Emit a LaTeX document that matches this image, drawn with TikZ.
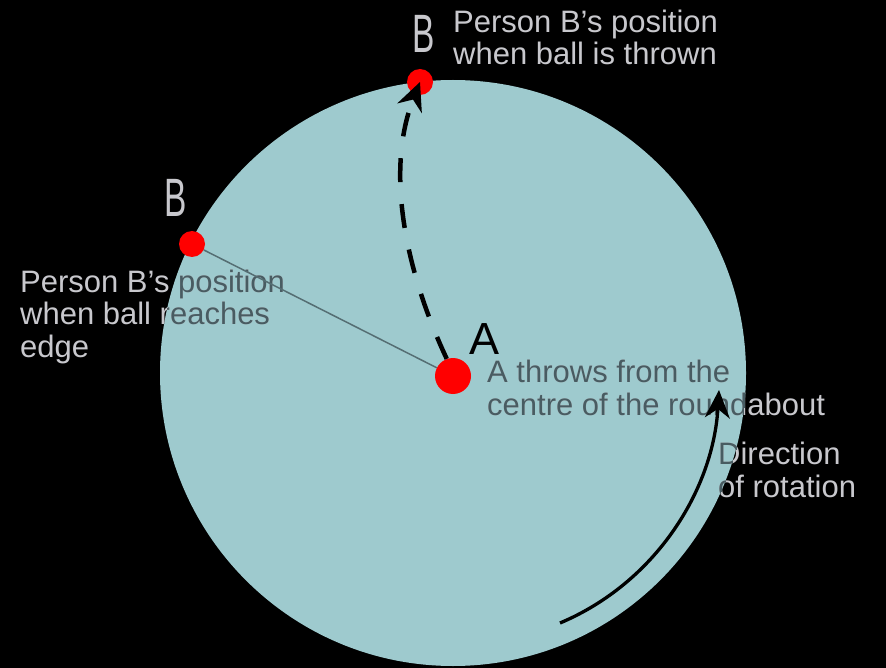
\documentclass[tikz,border=0pt]{standalone}
\usepackage{fontspec}
\setmainfont{Liberation Sans}
\usetikzlibrary{arrows.meta}

\definecolor{roundaboutblue}{RGB}{158,202,206}
\definecolor{lighttext}{RGB}{200,200,205}
\definecolor{darktext}{RGB}{72,92,98}
\definecolor{dotred}{RGB}{255,0,0}
\definecolor{radiusline}{RGB}{85,110,115}

% all grey notes, coloured #1, node names ending in #2
% (a note is placed at the baseline of its last line)
\newcommand{\placenotes}[2]{%
    \node[note, text=#1] (throwtext#2) at (453,65) {Person B's position\\when ball is thrown};
    \node[note, text=#1] (edgetext#2) at (20,357) {Person B's position\\when ball reaches\\edge};
    \node[note, text=#1] (centretext#2) at (487,415) {A throws from the\\centre of the roundabout};
    \node[note, text=#1] (rotationtext#2) at (718,497) {Direction\\of rotation};
}

\begin{document}
\begin{tikzpicture}[x=1pt, y=-1pt,
    note/.style={anchor=base west, align=left, inner sep=0pt, font=\fontsize{31}{32.5}\selectfont},
    reddot/.style={circle, fill=dotred, draw=none, inner sep=0pt, minimum size=#1},
    bigletter/.style={inner sep=0pt, font=\fontsize{54}{54}\selectfont}]

    % Black page and the roundabout
    \useasboundingbox (0,0) rectangle (886,668);
    \fill[black] (0,0) rectangle (886,668);
    \def\roundabout{(453,373) circle[radius=293pt]}
    \fill[roundaboutblue] \roundabout;

    % Notes: light on black, dark on the roundabout
    \placenotes{lighttext}{}
    \begin{scope}
        \clip \roundabout;
        \placenotes{darktext}{inside}
    \end{scope}

    % Letters for person B
    \node[bigletter, text=lighttext] (Bthrowletter) at (424,34) {\scalebox{0.62}[1]{B}};
    \node[bigletter, text=lighttext] (Bedgeletter) at (176,198) {\scalebox{0.62}[1]{B}};

    % People
    \node[reddot=36pt] (dotA) at (453,376) {};
    \node[reddot=26pt] (dotBthrow) at (420,82) {};
    \node[reddot=26pt] (dotBedge) at (192,244) {};
    \node[inner sep=0pt, font=\fontsize{45}{45}\selectfont] (letterA) at (485,339) {A};

    % Radius to B at the edge
    \draw[radiusline, line width=1.5pt] (dotBedge) -- (dotA);

    % Path of the ball
    \draw[line width=4.5pt, dash pattern=on 24pt off 22pt, -{Stealth[length=28pt, width=26pt]}]
        (dotA.110) .. controls (405,270) and (385,170) .. (dotBthrow.center);

    % Direction of rotation
    \coordinate (rotstart) at (560,623);
    \coordinate (rotend) at (719,390);
    \draw[line width=3.3pt, -{Stealth[length=28pt, width=25pt]}]
        (rotstart) .. controls (655,583) and (713,491) .. (rotend);
\end{tikzpicture}
\end{document}
